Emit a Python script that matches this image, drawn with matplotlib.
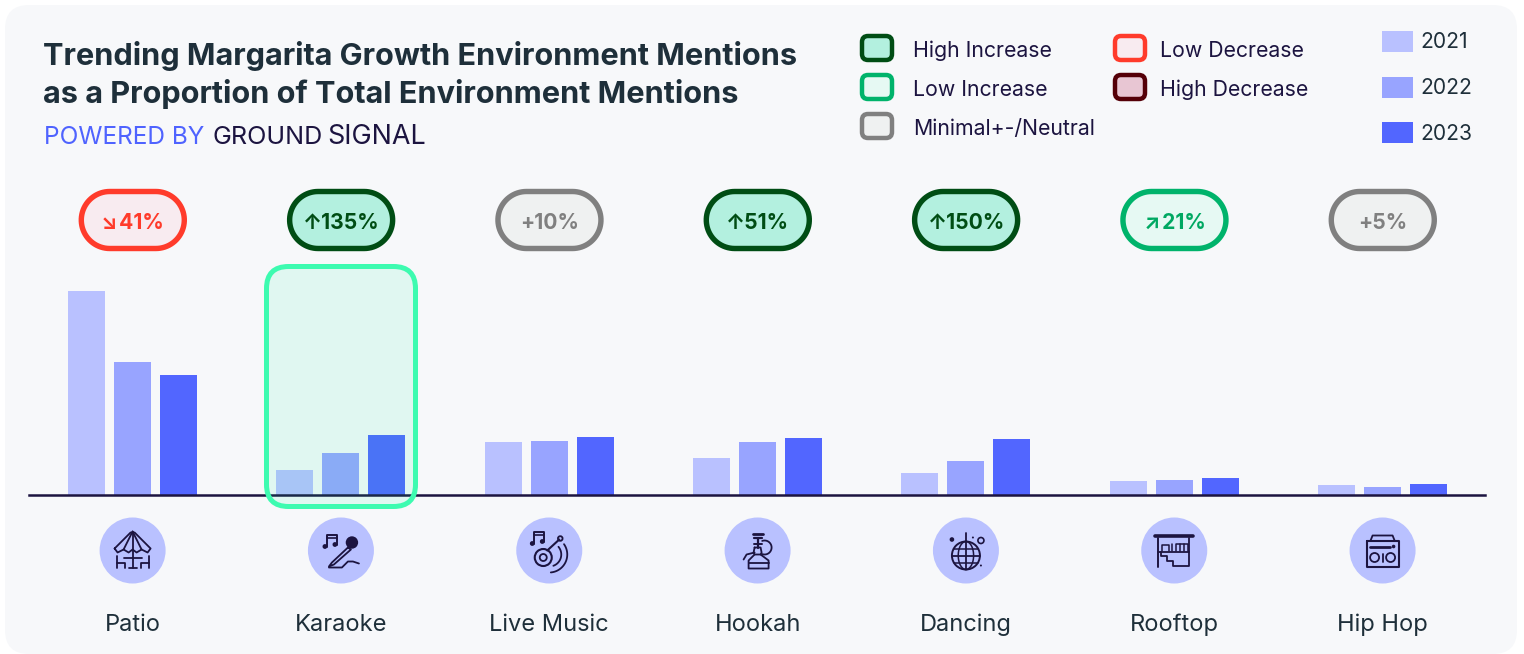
import matplotlib
matplotlib.use("Agg")
import matplotlib.pyplot as plt
from matplotlib.patches import FancyBboxPatch, Circle, Rectangle, Polygon
import numpy as np

categories = ["Patio", "Karaoke", "Live Music", "Hookah", "Dancing", "Rooftop", "Hip Hop"]
years = ["2021", "2022", "2023"]
values_2021 = [204, 25, 53, 37, 22, 14, 10.5]
values_2022 = [133, 42, 54, 53, 34, 15, 8.5]
values_2023 = [120, 60, 58.5, 57, 56, 17, 11]
changes = ["↘\u200a41%", "↑135%", "+10%", "↑51%", "↑150%", "↗\u200a21%", "+5%"]
change_kind = ["low_dec", "high_inc", "neutral", "high_inc", "high_inc", "low_inc", "neutral"]

kinds = {
    "high_inc": ("#004d14", "#b3f0df", "#004d14"),
    "low_inc": ("#00b36b", "#e6f9f3", "#00a862"),
    "neutral": ("#808080", "#eff1f1", "#808080"),
    "low_dec": ("#ff3b2b", "#f8ebf0", "#ff3b2b"),
    "high_dec": ("#550008", "#e8c6d3", "#550008"),
}
year_colors = ["#b9c1ff", "#98a4ff", "#5266ff"]
INK = "#1c1440"
DARK = "#1e2f3a"
W, H = 1524, 654

plt.rcParams["font.family"] = ["Inter", "DejaVu Sans"]

fig = plt.figure(figsize=(W / 100, H / 100), dpi=100, facecolor="white")


def px_axes(z):
    a = fig.add_axes([0, 0, 1, 1], zorder=z)
    a.set_xlim(0, W)
    a.set_ylim(H, 0)
    a.axis("off")
    a.patch.set_alpha(0)
    return a


def rounded(a, x0, y0, x1, y1, r, **kw):
    p = FancyBboxPatch((x0 + r, y0 + r), x1 - x0 - 2 * r, y1 - y0 - 2 * r,
                       boxstyle=f"round,pad={r},rounding_size={r}", **kw)
    a.add_patch(p)
    return p


def pill(a, x0, y0, x1, y1, **kw):
    # real half circles, the round boxstyle comes out too square
    r = (y1 - y0) / 2
    t = np.radians(np.linspace(-90, 90, 40))
    rs = np.column_stack([x1 - r + r * np.cos(t), (y0 + y1) / 2 + r * np.sin(t)])
    ls = np.column_stack([x0 + r - r * np.cos(t), (y0 + y1) / 2 - r * np.sin(t)])
    a.add_patch(Polygon(np.vstack([rs, ls]), closed=True, **kw))


bg = px_axes(0)
rounded(bg, 5, 5, 1517, 654, 24, fc="#f7f8fa", ec="none")

# bars
left, right, base, top = 29, 1485, 495, 265
ax = fig.add_axes([left / W, 1 - base / H, (right - left) / W, (base - top) / H], zorder=1)
ax.patch.set_alpha(0)
x = np.arange(len(categories))
step = 208.33
ax.set_xlim((left - 132.6) / step, (right - 132.6) / step)
ax.set_ylim(0, base - top)
bw = 37 / step
off = 46 / step
for i, vals in enumerate([values_2021, values_2022, values_2023]):
    ax.bar(x + (i - 1) * off, vals, width=bw, color=year_colors[i], label=years[i])
for s in ["top", "left", "right"]:
    ax.spines[s].set_visible(False)
ax.spines["bottom"].set_color(INK)
ax.spines["bottom"].set_linewidth(1.8)
ax.set_xticks([])
ax.set_yticks([])

ov = px_axes(2)

# title
ov.text(43, 56, "Trending Margarita Growth Environment Mentions", fontsize=22.1, fontweight="bold",
        color=DARK, va="center")
ov.text(43, 94, "as a Proportion of Total Environment Mentions", fontsize=22.1, fontweight="bold",
        color=DARK, va="center")
ov.text(44, 137, "POWERED BY", fontsize=17.6, color="#4f63ff", va="center")
ov.text(213, 137, "GROUND", fontsize=18.1, color=INK, va="center")
ov.text(327, 137, "SIGNAL", fontsize=19.4, color=INK, va="center")

# status legend
legend_items = [
    (860, 48, "high_inc", "High Increase", 913),
    (860, 87, "low_inc", "Low Increase", 913),
    (860, 126, "neutral", "Minimal+-/Neutral", 913),
    (1113, 48, "low_dec", "Low Decrease", 1160),
    (1113, 87, "high_dec", "High Decrease", 1160),
]
for sx, sy, kind, label, tx in legend_items:
    edge, fill, _ = kinds[kind]
    rounded(ov, sx + 2, sy - 12, sx + 32, sy + 12, 6, fc=fill, ec=edge, lw=3.2)
    ov.text(tx, sy + 2.8, label, fontsize=15.3, color=INK, va="center")

# year legend
for yr, c, sy in zip(years, year_colors, [41, 87, 132]):
    ov.add_patch(Rectangle((1382, sy - 10.5), 31, 21, fc=c, ec="none"))
    ov.text(1420, sy + 1.5, yr, fontsize=15.2, color=DARK, va="center")

# change pills
for i, (txt, kind) in enumerate(zip(changes, change_kind)):
    edge, fill, tc = kinds[kind]
    cx = 132.8 + i * step
    pill(ov, cx - 51.5, 191.5, cx + 51.5, 248.5, fc=fill, ec=edge, lw=3.9)
    ov.text(cx, 223, txt, fontsize=15.2, fontweight="bold", color=tc, ha="center", va="center")

# highlight on Karaoke
rounded(ov, 266.5, 266.5, 415.5, 506.5, 22, fc=(0, 0.97, 0.63, 0.09), ec="#3dfbb0", lw=3.6)


def line(cx, cy, pts, lw=1.3):
    p = np.array(pts, dtype=float)
    ov.plot(cx + p[:, 0], cy + p[:, 1], color=INK, lw=lw, solid_capstyle="round",
            solid_joinstyle="round")


def arc(cx, cy, ax0, ay0, r, a0, a1, lw=1.3):
    t = np.radians(np.linspace(a0, a1, 40))
    ov.plot(cx + ax0 + r * np.cos(t), cy + ay0 + r * np.sin(t), color=INK, lw=lw,
            solid_capstyle="round")


def dot(cx, cy, dx, dy, r):
    ov.add_patch(Circle((cx + dx, cy + dy), r, fc=INK, ec="none"))


def ring(cx, cy, dx, dy, r, lw=1.3):
    ov.add_patch(Circle((cx + dx, cy + dy), r, fc="none", ec=INK, lw=lw))


def note(cx, cy, dx, dy):
    line(cx, cy, [(dx + 3, dy + 9), (dx + 3, dy - 3), (dx + 13, dy - 3), (dx + 13, dy + 7)], 1.4)
    line(cx, cy, [(dx + 3, dy), (dx + 13, dy)], 1.2)
    dot(cx, cy, dx + 1, dy + 9, 2.4)
    dot(cx, cy, dx + 11, dy + 7, 2.4)


def icon_patio(cx, cy):
    line(cx, cy, [(-18, -2), (-2, -18), (2, -18), (18, -2), (15, 2), (9, -1), (4, 2),
                  (0, -1), (-4, 2), (-9, -1), (-15, 2), (-18, -2)])
    line(cx, cy, [(0, -19), (-9, -1)])
    line(cx, cy, [(0, -19), (9, -1)])
    line(cx, cy, [(0, -19), (0, 17)])
    line(cx, cy, [(-9, 7), (9, 7)])
    line(cx, cy, [(-16, 5), (-16, 17)])
    line(cx, cy, [(16, 5), (16, 17)])
    line(cx, cy, [(-16, 12), (-8, 12), (-8, 17)])
    line(cx, cy, [(16, 12), (8, 12), (8, 17)])
    line(cx, cy, [(-4, 17), (4, 17)])


def icon_karaoke(cx, cy):
    note(cx, cy, -17, -13)
    dot(cx, cy, 11, -8, 6.2)
    line(cx, cy, [(7, -3), (-9, 12), (-12, 16), (-7, 14), (10, -1), (7, -3)])
    line(cx, cy, [(-12, 17), (1, 17), (7, 11), (12, 11), (18, 13)])


def icon_music(cx, cy):
    note(cx, cy, -18, -16)
    ring(cx, cy, -6, 7, 8.5, 1.5)
    ring(cx, cy, -6, 7, 3.5, 1.3)
    line(cx, cy, [(-2, 0), (10, -11)], 1.5)
    ring(cx, cy, 11, -12, 2.3)
    arc(cx, cy, 0, 4, 12, -40, 70)
    arc(cx, cy, 0, 4, 18, -35, 85)


def icon_hookah(cx, cy):
    line(cx, cy, [(-5, -17), (5, -17)], 2.0)
    line(cx, cy, [(-4, -13), (4, -13)], 1.6)
    line(cx, cy, [(0, -13), (0, -3)], 1.6)
    line(cx, cy, [(-4, -7), (4, -7)], 1.4)
    line(cx, cy, [(-3, -3), (3, -3), (4, 2), (3, 4), (-3, 4), (-4, 2), (-3, -3)])
    line(cx, cy, [(-3, 4), (-9, 10), (-9, 18), (11, 18), (11, 10), (3, 4)])
    line(cx, cy, [(-9, 12), (11, 12)])
    arc(cx, cy, 7, -3, 7, -110, 110)
    line(cx, cy, [(-3, 2), (-11, 4), (-14, 9)])


def icon_dancing(cx, cy):
    ring(cx, cy, 0, 5, 14, 1.4)
    line(cx, cy, [(0, -18), (0, 18)])
    line(cx, cy, [(-14, 5), (14, 5)])
    line(cx, cy, [(-12, -2), (12, -2)], 1.1)
    line(cx, cy, [(-12, 12), (12, 12)], 1.1)
    t = np.radians(np.linspace(-90, 90, 20))
    for k in [0.55, -0.55]:
        ov.plot(cx + k * 14 * np.cos(t), cy + 5 + 14 * np.sin(t), color=INK, lw=1.1)
    dot(cx, cy, -14, -11, 2.3)
    ring(cx, cy, 15, -10, 3, 1.2)
    dot(cx, cy, 7, -13, 1)
    dot(cx, cy, 15, 15, 1)


def icon_rooftop(cx, cy):
    line(cx, cy, [(-19, -15), (19, -15)], 2.6)
    line(cx, cy, [(-16, -13), (-16, 16)], 1.4)
    line(cx, cy, [(15, -13), (15, 15), (-1, 15), (-1, 10), (-7, 10), (-7, 5), (-13, 5), (-13, 1)])
    line(cx, cy, [(-16, 1), (15, 1)])
    line(cx, cy, [(-12, 0), (-12, -6), (-5, -6), (-5, 0)], 1.1)
    line(cx, cy, [(-2, 0), (-2, -7)], 1.1)
    line(cx, cy, [(2, 0), (2, -7), (14, -7), (14, 0)], 1.1)
    line(cx, cy, [(6, 0), (6, -7)], 1.1)
    line(cx, cy, [(10, 0), (10, -7)], 1.1)


def icon_radio(cx, cy):
    line(cx, cy, [(-16, -10), (16, -10), (16, 16), (-16, 16), (-16, -10)], 1.5)
    line(cx, cy, [(-12, -10), (-10, -15), (10, -15), (12, -10)], 1.3)
    line(cx, cy, [(-13, -4), (7, -4)], 2.0)
    dot(cx, cy, 11, -4, 1.8)
    ring(cx, cy, -8, 7, 4.5)
    ring(cx, cy, 8, 7, 4.5)
    line(cx, cy, [(0, 3), (0, 11)])


icons = [icon_patio, icon_karaoke, icon_music, icon_hookah, icon_dancing, icon_rooftop, icon_radio]
for i, (name, draw) in enumerate(zip(categories, icons)):
    cx = 132.6 + i * step
    ov.add_patch(Circle((cx, 550.5), 33, fc="#b9c1ff", ec="none"))
    draw(cx, 550.5)
    ov.text(cx, 625, name, fontsize=17, color=DARK, ha="center", va="center")

ov.set_xlim(0, W)
ov.set_ylim(H, 0)
fig.savefig("out.png", dpi=100)
